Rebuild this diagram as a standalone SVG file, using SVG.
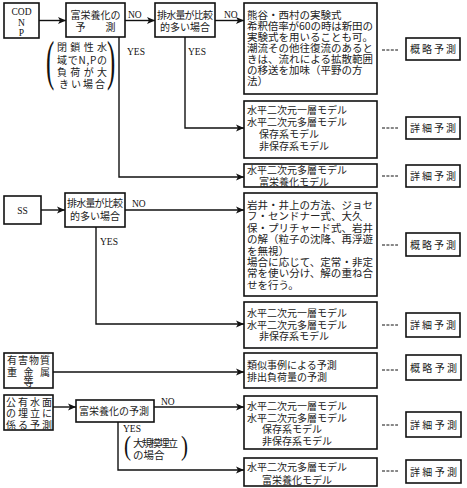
<svg xmlns="http://www.w3.org/2000/svg" width="467" height="488" viewBox="0 0 467 488">
<defs>
<marker id="ah" markerUnits="userSpaceOnUse" markerWidth="9" markerHeight="8" refX="8" refY="4" orient="auto">
<path d="M0,0.5 L8,4 L0,7.5 L2,4 z" fill="#111"/>
</marker>
<style>
.bx{fill:#fff;stroke:#111;stroke-width:1.6}
.ln{fill:none;stroke:#111;stroke-width:1.4}
.ar{fill:none;stroke:#111;stroke-width:1.4;marker-end:url(#ah)}
.da{fill:none;stroke:#111;stroke-width:1;stroke-dasharray:3,1.4}
.t{font-family:"Noto Sans CJK JP","Noto Sans CJK SC",sans-serif;font-size:10.5px;fill:#222}
.s{font-size:10px}
.l{font-family:"Liberation Serif","Noto Sans CJK JP",serif;font-size:9.5px;fill:#111}
.p{font-family:"Liberation Serif",serif;fill:#111}
</style>
</defs>
<rect width="467" height="488" fill="#fff"/>

<g id="connectors">
<path class="ar" d="M39,20.5 H66"/>
<path class="ar" d="M125,20.5 H155"/>
<path class="ar" d="M215,20.5 H244"/>
<path class="ar" d="M119,37 V177 H244"/>
<path class="ar" d="M185,37 V128 H244"/>
<path class="da" d="M382,50 H398"/>
<path class="da" d="M382,128 H398"/>
<path class="da" d="M382,176 H398"/>
<path class="ar" d="M41,210 H65"/>
<path class="ar" d="M125,210 H244"/>
<path class="ar" d="M96,227 V324 H244"/>
<path class="da" d="M382,245 H398"/>
<path class="da" d="M382,325 H398"/>
<path class="ar" d="M53,372 H244"/>
<path class="da" d="M382,370 H398"/>
<path class="ar" d="M53,407 H76"/>
<path class="ar" d="M154,407 H244"/>
<path class="ar" d="M118,422 V470 H244"/>
<path class="da" d="M382,425 H398"/>
<path class="da" d="M382,471 H398"/>
<text class="l" x="128" y="18">NO</text>
<text class="l" x="224" y="18">NO</text>
<text class="l" x="127" y="55">YES</text>
<text class="l" x="188" y="55">YES</text>
<text class="l" x="132" y="207">NO</text>
<text class="l" x="100" y="245">YES</text>
<text class="l" x="161" y="405">NO</text>
<text class="l" x="123" y="432">YES</text>
</g>

<g id="cond1">
<text class="p" font-size="55" transform="translate(46,79) scale(0.45,1)">(</text>
<text class="t s" x="57" y="51" textLength="50" lengthAdjust="spacing">閉鎖性水</text>
<text class="t s" x="57" y="64" textLength="50" lengthAdjust="spacing">域でN,Pの</text>
<text class="t s" x="57" y="76" textLength="50" lengthAdjust="spacing">負荷が大</text>
<text class="t s" x="59" y="88" textLength="46" lengthAdjust="spacing">きい場合</text>
<text class="p" font-size="55" transform="translate(107,79) scale(0.45,1)">)</text>
</g>

<g id="cond2">
<text class="p" font-size="28" transform="translate(124,455) scale(0.75,1)">(</text>
<text class="t" font-size="9" x="133" y="447" textLength="45" lengthAdjust="spacing">大規模埋立</text>
<text class="t" font-size="9" x="133" y="459">の場合</text>
<text class="p" font-size="28" transform="translate(181,455) scale(0.75,1)">)</text>
</g>

<g id="cod">
<rect class="bx" x="4" y="3" width="35" height="35"/>
<text class="l" x="21.5" y="15" text-anchor="middle">COD</text>
<text class="l" x="21.5" y="25.5" text-anchor="middle">N</text>
<text class="l" x="21.5" y="36" text-anchor="middle">P</text>
</g>

<g id="eutro1">
<rect class="bx" x="66" y="3" width="59" height="34"/>
<text class="t s" x="95.5" y="19" text-anchor="middle">富栄養化の</text>
<text class="t s" x="95.5" y="31" text-anchor="middle">予　　測</text>
</g>

<g id="discharge1">
<rect class="bx" x="155" y="3" width="60" height="34"/>
<text class="t s" x="157" y="19" textLength="56" lengthAdjust="spacing">排水量が比較</text>
<text class="t s" x="185" y="31" text-anchor="middle">的多い場合</text>
</g>

<g id="empirical">
<rect class="bx" x="244" y="3" width="133" height="91"/>
<text class="t" x="247" y="19">熊谷・西村の実験式</text>
<text class="t" x="247" y="30" textLength="126" lengthAdjust="spacing">希釈倍率が60の時は新田の</text>
<text class="t" x="247" y="41" textLength="126" lengthAdjust="spacing">実験式を用いることも可。</text>
<text class="t" x="247" y="52" textLength="126" lengthAdjust="spacing">潮流その他往復流のあると</text>
<text class="t" x="247" y="63" textLength="126" lengthAdjust="spacing">きは、流れによる拡散範囲</text>
<text class="t" x="247" y="74">の移送を加味（平野の方</text>
<text class="t" x="247" y="85">法）</text>
</g>

<g id="r1">
<rect class="bx" x="406" y="38" width="54" height="22"/>
<text class="t s" x="410" y="53" textLength="46" lengthAdjust="spacing">概略予測</text>
</g>

<g id="models1">
<rect class="bx" x="244" y="101" width="133" height="57"/>
<text class="t s" x="247" y="114">水平二次元一層モデル</text>
<text class="t s" x="247" y="126">水平二次元多層モデル</text>
<text class="t s" x="259" y="138">保存系モデル</text>
<text class="t s" x="259" y="150">非保存系モデル</text>
</g>

<g id="r2">
<rect class="bx" x="406" y="117" width="54" height="22"/>
<text class="t s" x="410" y="132" textLength="46" lengthAdjust="spacing">詳細予測</text>
</g>

<g id="models2">
<rect class="bx" x="244" y="164" width="133" height="23"/>
<text class="t s" x="247" y="174">水平二次元多層モデル</text>
<text class="t s" x="259" y="185.5">富栄養化モデル</text>
</g>

<g id="r3">
<rect class="bx" x="406" y="165" width="54" height="22"/>
<text class="t s" x="410" y="180" textLength="46" lengthAdjust="spacing">詳細予測</text>
</g>

<g id="ss">
<rect class="bx" x="4" y="196" width="37" height="28"/>
<text class="l" x="22.5" y="213.5" text-anchor="middle">SS</text>
</g>

<g id="discharge2">
<rect class="bx" x="65" y="193" width="60" height="34"/>
<text class="t s" x="67" y="207" textLength="56" lengthAdjust="spacing">排水量が比較</text>
<text class="t s" x="95" y="220" text-anchor="middle">的多い場合</text>
</g>

<g id="sediment">
<rect class="bx" x="244" y="193" width="133" height="103"/>
<text class="t" x="247" y="209" textLength="126" lengthAdjust="spacing">岩井・井上の方法、ジョセ</text>
<text class="t" x="247" y="220.4">フ・センドナー式、大久</text>
<text class="t" x="247" y="231.8" textLength="126" lengthAdjust="spacing">保・プリチャード式、岩井</text>
<text class="t" x="247" y="243.2" textLength="126" lengthAdjust="spacing">の解（粒子の沈降、再浮遊</text>
<text class="t" x="247" y="254.6">を無視）</text>
<text class="t" x="247" y="266" textLength="126" lengthAdjust="spacing">場合に応じて、定常・非定</text>
<text class="t" x="247" y="277.4" textLength="126" lengthAdjust="spacing">常を使い分け、解の重ね合</text>
<text class="t" x="247" y="288.8">せを行う。</text>
</g>

<g id="r4">
<rect class="bx" x="406" y="233" width="54" height="23"/>
<text class="t s" x="410" y="248.5" textLength="46" lengthAdjust="spacing">概略予測</text>
</g>

<g id="models3">
<rect class="bx" x="244" y="302" width="133" height="46"/>
<text class="t s" x="247" y="317">水平二次元一層モデル</text>
<text class="t s" x="247" y="329">水平二次元多層モデル</text>
<text class="t s" x="259" y="340">非保存系モデル</text>
</g>

<g id="r5">
<rect class="bx" x="406" y="313" width="54" height="24"/>
<text class="t s" x="410" y="329" textLength="46" lengthAdjust="spacing">詳細予測</text>
</g>

<g id="toxic">
<rect class="bx" x="4" y="353" width="49" height="35"/>
<text class="t s" x="7" y="364" textLength="43" lengthAdjust="spacing">有害物質</text>
<text class="t s" x="7" y="375.5" textLength="43" lengthAdjust="spacing">重金属</text>
<text class="t s" x="28.5" y="385.5" text-anchor="middle">等</text>
</g>

<g id="similar">
<rect class="bx" x="244" y="353" width="133" height="35"/>
<text class="t s" x="247" y="369">類似事例による予測</text>
<text class="t s" x="247" y="381">排出負荷量の予測</text>
</g>

<g id="r6">
<rect class="bx" x="406" y="355" width="55" height="25"/>
<text class="t s" x="410" y="371.5" textLength="47" lengthAdjust="spacing">概略予測</text>
</g>

<g id="reclaim">
<rect class="bx" x="4" y="395" width="49" height="35"/>
<text class="t s" x="6" y="406" textLength="46" lengthAdjust="spacing">公有水面</text>
<text class="t s" x="6" y="417" textLength="46" lengthAdjust="spacing">の埋立に</text>
<text class="t s" x="6" y="429" textLength="46" lengthAdjust="spacing">係る予測</text>
</g>

<g id="eutro2">
<rect class="bx" x="76" y="400" width="78" height="22"/>
<text class="t s" x="79" y="415">富栄養化の予測</text>
</g>

<g id="models4">
<rect class="bx" x="244" y="396" width="133" height="53"/>
<text class="t s" x="247" y="410">水平二次元一層モデル</text>
<text class="t s" x="247" y="421.5">水平二次元多層モデル</text>
<text class="t s" x="262" y="433">保存系モデル</text>
<text class="t s" x="262" y="444.5">非保存系モデル</text>
</g>

<g id="r7">
<rect class="bx" x="406" y="412" width="55" height="25"/>
<text class="t s" x="410" y="428.5" textLength="47" lengthAdjust="spacing">詳細予測</text>
</g>

<g id="models5">
<rect class="bx" x="244" y="458" width="133" height="28"/>
<text class="t s" x="247" y="471">水平二次元多層モデル</text>
<text class="t s" x="262" y="483.5">富栄養化モデル</text>
</g>

<g id="r8">
<rect class="bx" x="406" y="460" width="55" height="23"/>
<text class="t s" x="410" y="475.5" textLength="47" lengthAdjust="spacing">詳細予測</text>
</g>
</svg>
